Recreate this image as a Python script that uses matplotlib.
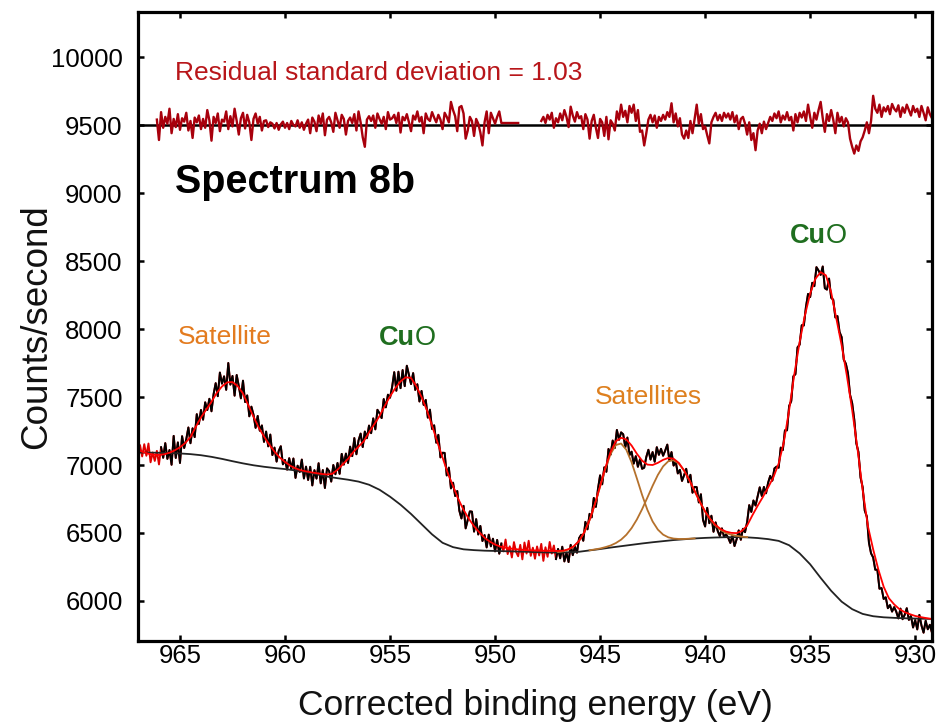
import matplotlib
matplotlib.use('Agg')
import matplotlib.pyplot as plt
import numpy as np

plt.rcParams['font.family'] = ['Liberation Sans', 'DejaVu Sans']

nan = np.nan

# Measured spectrum, 0.1 eV steps from 966.9 down to 929.1 eV (counts/second)
counts = [
    7144, 7063, 7153, 7068, 7158, 7020, 7092, 7030, 7104, 7004,
    7131, 7053, 7161, 7045, 7110, 7002, 7214, 7052, 7166, 7015,
    7212, 7125, 7190, 7276, 7160, 7270, 7205, 7374, 7302, 7405,
    7333, 7461, 7404, 7487, 7395, 7521, 7602, 7506, 7680, 7598,
    7652, 7553, 7750, 7591, 7655, 7510, 7662, 7580, 7490, 7620,
    7463, 7512, 7358, 7429, 7370, 7273, 7361, 7252, 7291, 7170,
    7246, 7137, 7224, 7073, 7128, 7025, 7103, 7138, 7005, 7037,
    6966, 7050, 6971, 7048, 6905, 6995, 6949, 7040, 6901, 6988,
    6890, 6987, 6850, 6962, 6900, 7013, 6865, 6963, 6831, 6975,
    6955, 6878, 7000, 6932, 7015, 6935, 7082, 7003, 7084, 7015,
    7135, 7065, 7198, 7079, 7180, 7231, 7132, 7246, 7197, 7290,
    7234, 7343, 7262, 7406, 7380, 7345, 7485, 7424, 7517, 7495,
    7574, 7683, 7546, 7686, 7565, 7698, 7580, 7730, 7663, 7595,
    7676, 7552, 7594, 7467, 7545, 7442, 7479, 7348, 7407, 7265,
    7292, 7164, 7222, 7056, 7090, 7089, 6923, 6981, 6828, 6870,
    6772, 6809, 6664, 6607, 6700, 6534, 6598, 6659, 6657, 6510,
    6602, 6489, 6552, 6441, 6485, 6394, 6488, 6402, 6458, 6365,
    6449, 6348, 6423, 6365, 6452, 6345, 6402, 6320, 6433, 6361,
    6329, 6413, 6306, 6430, 6349, 6443, 6332, 6392, 6311, 6401,
    6335, 6420, 6295, 6395, 6325, 6434, 6349, 6408, 6308, 6383,
    6314, 6399, 6291, 6355, 6286, 6413, 6337, 6400, 6355, 6462,
    6487, 6443, 6582, 6527, 6641, 6615, 6758, 6692, 6825, 6924,
    6858, 6983, 6950, 7118, 7076, 7180, 7125, 7258, 7185, 7240,
    7226, 7130, 7202, 7073, 7098, 7010, 7065, 6987, 7042, 6972,
    6980, 7059, 7112, 7040, 7095, 7024, 7131, 7075, 7119, 7068,
    7106, 7150, 7032, 7095, 6996, 7026, 6938, 6964, 6883, 6925,
    6972, 6873, 6928, 6796, 6839, 6837, 6725, 6785, 6596, 6548,
    6685, 6572, 6627, 6509, 6578, 6515, 6478, 6534, 6472, 6490,
    6465, 6427, 6480, 6404, 6454, 6519, 6450, 6531, 6506, 6580,
    6705, 6655, 6739, 6702, 6770, 6836, 6772, 6839, 6792, 6870,
    6920, 6885, 6975, 6988, 6980, 7128, 7110, 7255, 7255, 7434,
    7470, 7652, 7668, 7865, 7885, 8028, 8026, 8162, 8258, 8235,
    8340, 8315, 8455, 8430, 8398, 8460, 8300, 8290, 8371, 8230,
    8215, 8085, 8095, 7978, 7940, 7775, 7745, 7676, 7516, 7455,
    7335, 7159, 7095, 6908, 6836, 6665, 6620, 6428, 6350, 6320,
    6230, 6230, 6090, 6095, 6015, 6027, 5947, 5970, 5922, 5955,
    5921, 5872, 5944, 5866, 5898, 5947, 5861, 5890, 5805, 5860,
    5791, 5898, 5820, 5767, 5855, 5792, 5825, 5767, 5886,
]

# Residual (data - fit), same energy grid, drawn around the 9500 line
residual = [
    nan, nan, nan, nan, nan, nan, nan, nan, 40, -110,
    95, -20, 60, 10, 120, -60, 45, -15, 80, -35,
    50, 25, 90, -40, 30, -95, 55, 20, 70, -30,
    45, -20, 110, 35, -115, 60, 15, 85, -45, 40,
    25, 100, -30, 65, -10, 120, 30, -70, 50, 90,
    -25, 75, 20, -110, 45, 85, 10, 60, -40, 30,
    35, -15, 20, 10, -25, 15, -35, 5, 25, -20,
    15, -30, 30, 0, -10, 35, -20, 20, -35, 10,
    40, -60, 55, 25, -45, 70, 10, 85, -75, 40,
    60, 20, -50, 90, 35, -20, 75, 45, -70, 30,
    55, 15, 80, -40, 100, 20, -90, -160, 40, 65,
    30, 70, -20, 85, 45, 10, 60, -30, 95, 40,
    50, 75, 15, 90, -55, 60, 35, 80, 20, -45,
    70, 40, 100, 25, 60, -60, 85, 45, 30, 95,
    55, 20, 75, 40, -30, 90, 60, 20, 170, 110,
    65, -45, 130, 140, 85, -100, -40, 60, 30, -80,
    45, 10, -55, -150, 20, 100, -60, 90, 50, 10,
    60, 100, 15, 15, 15, 15, 15, 15, 15, 15,
    15, nan, nan, nan, nan, nan, nan, nan, nan, nan,
    nan, 30, 60, 15, 75, 40, 90, -20, 50, 20,
    85, 35, 110, 60, -15, 135, 70, 25, 95, 50,
    65, -30, 80, 40, -100, 30, 75, -20, -95, 45,
    20, -80, 60, -105, 35, 10, -40, 100, 40, 150,
    60, 105, 20, 140, 90, 150, 30, 110, -50, -40,
    -150, -60, 40, 75, 20, 70, -20, 60, 30, 75,
    40, 95, 60, 160, 20, 85, -10, 50, -70, -100,
    -40, -95, 30, -60, 45, 150, 10, 80, -30, -10,
    -75, -135, 20, 60, 90, 35, 75, 30, 90, 55,
    85, 40, 95, 20, 70, -30, 45, 60, 10, -70,
    20, -110, -60, -185, -40, 10, -60, 25, -30, 15,
    60, 30, 85, 50, 100, 20, 70, 40, 95, 35,
    60, -40, 80, 20, 90, 55, 100, 30, 150, 60,
    -20, 90, 40, 110, 170, 50, -50, 80, 30, 110,
    40, -60, 90, 20, 60, -10, 50, 20, -100, -160,
    -210, -150, -190, -120, -90, -40, 20, -60, 30, 215,
    120, 90, 150, 60, 130, 100, 140, 80, 155, 120,
    100, 145, 60, 130, 90, 150, 110, 70, 140, 95,
    120, 60, 140, 90, 35, 130, 80, 50, 110,
]

# Fitted envelope, 0.25 eV steps from 967.0 down to 929.0
fit_counts = [
    7110, 7095, 7083, 7076, 7074, 7079, 7090, 7108,
    7130, 7162, 7205, 7280, 7350, 7408, 7465, 7530,
    7578, 7608, 7610, 7580, 7525, 7440, 7355, 7275,
    7210, 7150, 7098, 7055, 7022, 6995, 6975, 6962,
    6953, 6946, 6940, 6934, 6930, 6935, 6965, 7005,
    7045, 7095, 7135, 7175, 7240, 7300, 7360, 7435,
    7505, 7565, 7615, 7645, 7640, 7580, 7500, 7405,
    7290, 7170, 7055, 6940, 6845, 6750, 6670, 6605,
    6550, 6505, 6465, 6437, 6415, 6400, 6392, 6386,
    6381, 6377, 6374, 6372, 6371, 6370, 6369, 6368,
    6368, 6370, 6381, 6403, 6442, 6506, 6596, 6712,
    6844, 6980, 7096, 7175, 7200, 7188, 7143, 7083,
    7032, 7003, 7000, 7016, 7038, 7052, 7046, 7015,
    6960, 6889, 6809, 6729, 6658, 6602, 6558, 6528,
    6510, 6501, 6499, 6515, 6555, 6630, 6700, 6765,
    6835, 6910, 7010, 7170, 7404, 7670, 7905, 8100,
    8260, 8370, 8418, 8395, 8270, 8075, 7880, 7655,
    7405, 7125, 6816, 6550, 6380, 6230, 6105, 6020,
    5975, 5940, 5918, 5903, 5890, 5882, 5875, 5869,
    5864,
]

# Shirley background, 0.5 eV steps from 967.0 down to 929.0
background = [
    7092, 7091, 7090, 7088, 7085, 7080, 7072, 7060, 7045, 7028,
    7012, 6998, 6987, 6978, 6970, 6960, 6947, 6932, 6915, 6903,
    6892, 6878, 6855, 6818, 6767, 6708, 6640, 6565, 6490, 6428,
    6396, 6380, 6374, 6370, 6368, 6366, 6364, 6362, 6359, 6357,
    6356, 6358, 6362, 6372, 6382, 6393, 6403, 6413, 6423, 6432,
    6440, 6448, 6454, 6460, 6464, 6467, 6469, 6470, 6468, 6463,
    6455, 6442, 6410, 6350, 6270, 6170, 6075, 5995, 5940, 5905,
    5888, 5880, 5876, 5873, 5871, 5869, 5867,
]

# Satellite components (0.25 eV steps), 947.0-940.5 and 945.5-938.0 eV
sat1 = [6360, 6366, 6379, 6402, 6442, 6506, 6595, 6710, 6840, 6972, 7081,
        7147, 7158, 7112, 7020, 6902, 6780, 6671, 6585, 6525, 6488, 6468,
        6459, 6456, 6456, 6458, 6460]
sat2 = [6373, 6379, 6386, 6396, 6408, 6426, 6451, 6487, 6536, 6599, 6675,
        6760, 6847, 6927, 6990, 7028, 7035, 7010, 6958, 6888, 6809, 6729,
        6658, 6599, 6554, 6521, 6500, 6487, 6479, 6473, 6470]

energy = np.linspace(966.9, 929.1, len(counts))
fit_energy = np.linspace(967.0, 929.0, len(fit_counts))
bg_energy = np.linspace(967.0, 929.0, len(background))
sat1_energy = np.linspace(947.0, 940.5, len(sat1))
sat2_energy = np.linspace(945.5, 938.0, len(sat2))

counts = np.array(counts, dtype=float)
residual = np.array(residual, dtype=float)

# parts of the spectrum inside the fitted windows are drawn black
in_window = ((energy <= 965.95) & (energy >= 949.65)) | (energy <= 947.15)
counts_black = np.where(in_window, counts, np.nan)

fig = plt.figure(figsize=(9.36, 7.25), dpi=100)
ax = fig.add_axes([0.1474, 0.1159, 0.8483, 0.8675])

ax.plot(energy, counts, color='#e00000', lw=1.4)
ax.plot(energy, counts_black, color='black', lw=1.4)
ax.plot(bg_energy, background, color='#222222', lw=1.3)
ax.plot(sat1_energy, sat1, color='#b5712c', lw=1.3)
ax.plot(sat2_energy, sat2, color='#b5712c', lw=1.3)
ax.plot(fit_energy, fit_counts, color='#ff0000', lw=1.3)

# residual trace with its zero line at 9500
ax.axhline(9500, color='black', lw=1.8)
ax.plot(energy, 9500 + residual, color='#a8000c', lw=1.7)

ax.set_xlim(967.0, 929.2)
ax.set_ylim(5706, 10331)
ax.set_xticks([965, 960, 955, 950, 945, 940, 935, 930])
ax.set_yticks(np.arange(6000, 10001, 500))

ax.tick_params(direction='in', length=4.5, width=1.8, top=True, right=True,
               labelsize=18.5, colors='black')
ax.tick_params(axis='y', pad=11)
ax.tick_params(axis='x', pad=2)
for s in ax.spines.values():
    s.set_linewidth(2.3)

ax.set_xlabel('Corrected binding energy (eV)', fontsize=25.5, color='#111111')
ax.set_ylabel('Counts/second', fontsize=26.5, color='#111111')
ax.xaxis.set_label_coords(0.5, -0.077)
ax.yaxis.set_label_coords(-0.106, 0.5)

# annotations
ax.text(965.24, 9882, 'Residual standard deviation = 1.03', color='#b8161a',
        fontsize=19, ha='left', va='center')
ax.text(965.24, 9081, 'Spectrum 8b', color='black', fontsize=28.5,
        fontweight='bold', ha='left', va='center')
ax.text(962.86, 7941, 'Satellite', color='#e37b1f', fontsize=19,
        ha='center', va='center')
ax.text(942.71, 7500, 'Satellites', color='#de801f', fontsize=19,
        ha='center', va='center')
ax.text(953.81, 7934, 'Cu', color='#1f6e1f', fontsize=19.5,
        fontweight='bold', ha='right', va='center')
ax.text(953.81, 7934, 'O', color='#1f6e1f', fontsize=19.5,
        ha='left', va='center')
ax.text(934.24, 8684, 'Cu', color='#1f6e1f', fontsize=19.5,
        fontweight='bold', ha='right', va='center')
ax.text(934.24, 8684, 'O', color='#1f6e1f', fontsize=19.5,
        ha='left', va='center')

fig.savefig('out.png', dpi=100)
